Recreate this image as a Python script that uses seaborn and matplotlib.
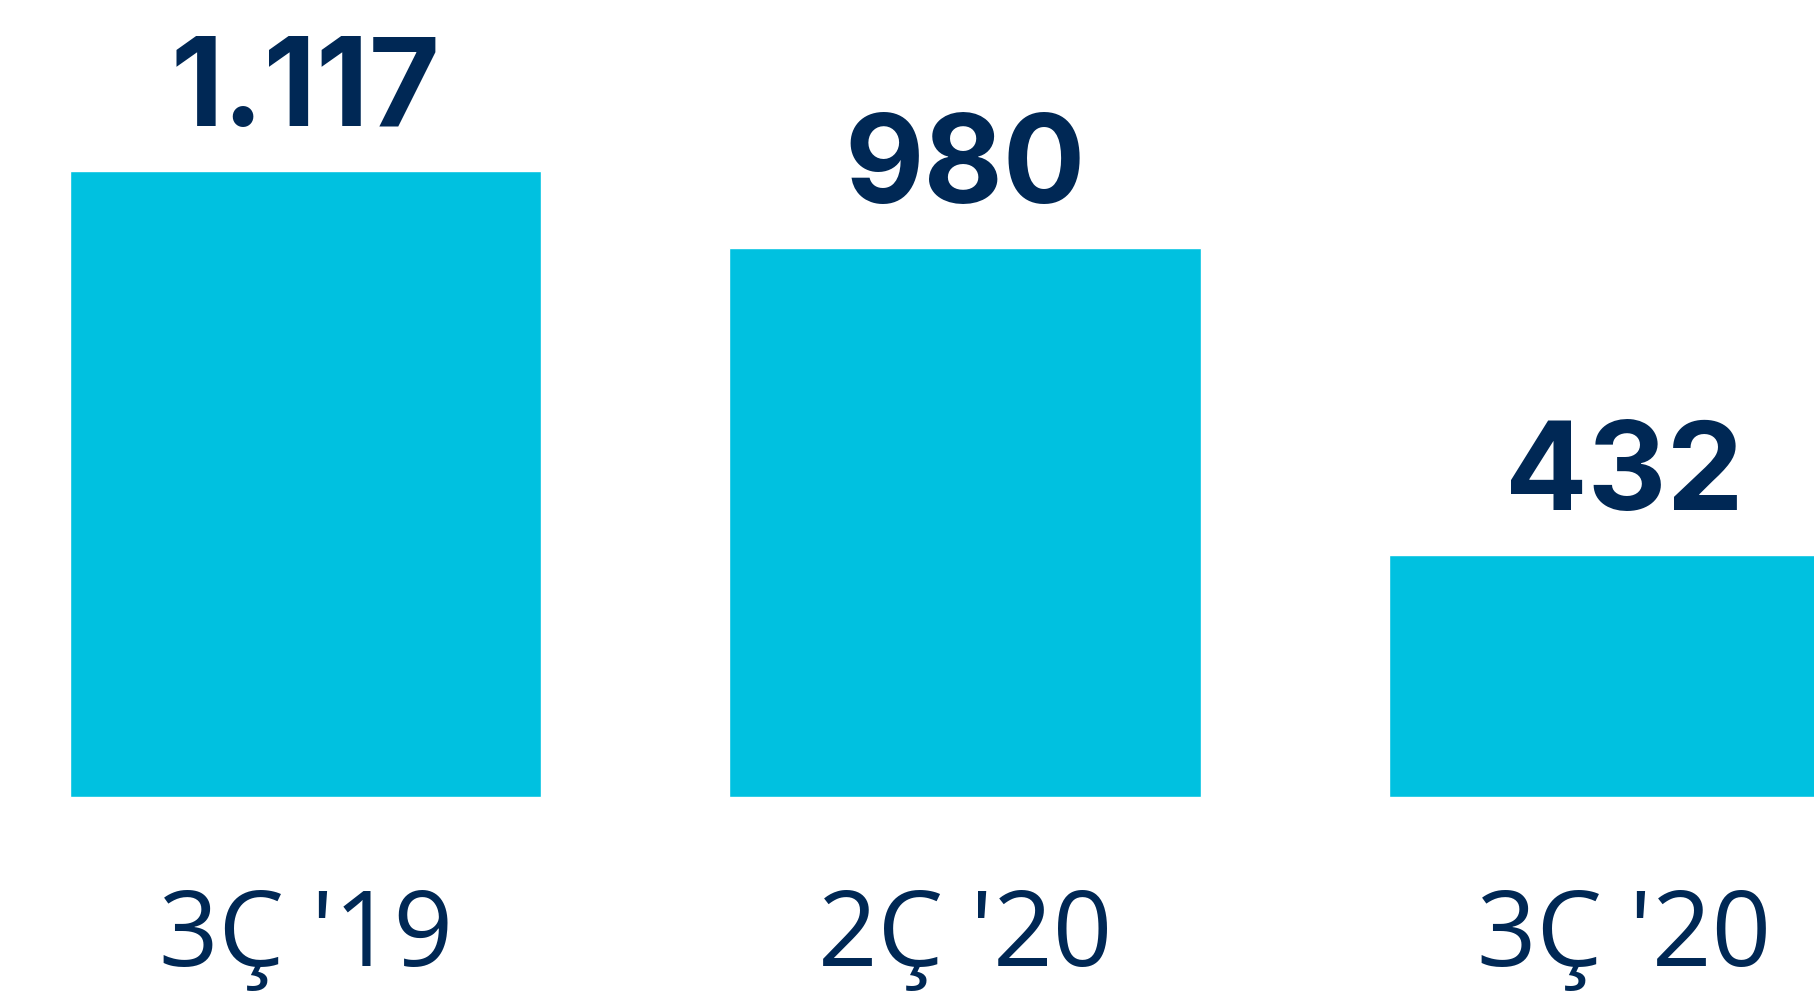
import matplotlib
matplotlib.use("Agg")
import matplotlib.pyplot as plt
import seaborn as sns
import pandas as pd

categories = ["3Ç '19", "2Ç '20", "3Ç '20"]
values = [1117, 980, 432]
value_labels = ["1.117", "980", "432"]

BAR_COLOR = "#00C1E0"
TEXT_COLOR = "#002855"

sns.set_theme(style="white")
plt.rcParams['font.family'] = ['Open Sans', 'DejaVu Sans']

df = pd.DataFrame({"cat": categories, "val": values})

fig = plt.figure(figsize=(18.14, 10.02), dpi=100)
ax = fig.add_axes([0, 0, 1, 1])
sns.barplot(data=df, x="cat", y="val", color=BAR_COLOR, saturation=1,
            width=0.715, ax=ax)

ax.set_xlim(-0.464, 2.288)
ax.set_ylim(-366, 1422)
ax.axis("off")

for i, (v, lab) in enumerate(zip(values, value_labels)):
    ax.annotate(lab, xy=(i, v), xytext=(0, 32.4), textcoords="offset points",
                ha="center", va="baseline", fontsize=88, fontweight="bold",
                family=["Inter", "DejaVu Sans"], color=TEXT_COLOR)
    ax.annotate(categories[i], xy=(i, 0), xytext=(0, -121.7),
                textcoords="offset points", ha="center", va="baseline",
                fontsize=75, color=TEXT_COLOR)

fig.savefig("out.png", dpi=100)
